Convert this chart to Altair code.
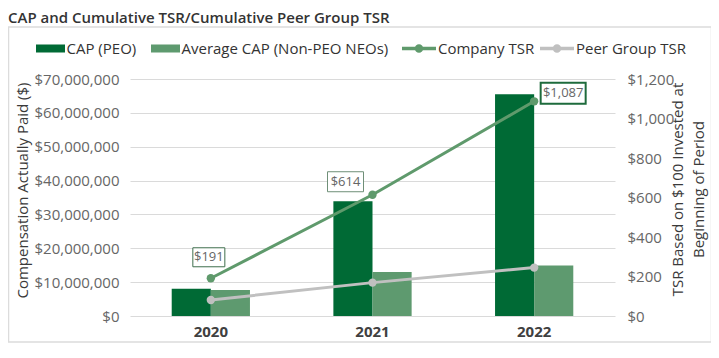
import altair as alt
import pandas as pd

# ---------------- data ----------------
years = ["2020", "2021", "2022"]
bar_series = ["CAP (PEO)", "Average CAP (Non-PEO NEOs)"]
cap_peo = [8_080_000, 33_900_000, 65_500_000]
cap_neo = [7_670_000, 12_980_000, 14_950_000]
tsr_series = ["Company TSR", "Peer Group TSR"]
company_tsr = [191, 614, 1087]
peer_tsr = [81, 169, 245]
tsr_labels = ["$191", "$614", "$1,087"]
left_ticks = [0, 10_000_000, 20_000_000, 30_000_000, 40_000_000, 50_000_000, 60_000_000, 70_000_000]
right_ticks = [0, 200, 400, 600, 800, 1000, 1200]

title_text = "CAP and Cumulative TSR/Cumulative Peer Group TSR"
left_title = "Compensation Actually Paid ($)"
right_title = ["TSR Based on $100 Invested at", "Beginning of Period"]

bar_colors = ["#006a35", "#5e9a6f"]
line_colors = ["#5f9a6c", "#c0c0c0"]

bar_df = pd.DataFrame(
    [{"year": y, "series": bar_series[0], "value": v} for y, v in zip(years, cap_peo)]
    + [{"year": y, "series": bar_series[1], "value": v} for y, v in zip(years, cap_neo)]
)
tsr_df = pd.DataFrame(
    [{"year": y, "series": tsr_series[0], "value": v} for y, v in zip(years, company_tsr)]
    + [{"year": y, "series": tsr_series[1], "value": v} for y, v in zip(years, peer_tsr)]
)
label_df = pd.DataFrame({"year": years, "value": company_tsr, "label": tsr_labels})

FONT = "Open Sans"


def box_path(w, h, unit=10.0):
    a = w / 2 / unit
    b = h / 2 / unit
    return f"M{-a:.3f},{-b:.3f}H{a:.3f}V{b:.3f}H{-a:.3f}Z"


# ---------------- encodings ----------------
x_enc = alt.X(
    "year:N",
    sort=years,
    scale=alt.Scale(paddingInner=0.516, paddingOuter=0.258),
    axis=alt.Axis(
        title=None, labelAngle=0, labelFontSize=15, labelFontWeight="bold",
        labelColor="#404040", domain=False, ticks=False, labelPadding=8,
    ),
)

y_bar = alt.Y(
    "value:Q",
    scale=alt.Scale(domain=[0, 70_000_000], nice=False),
    axis=alt.Axis(
        values=left_ticks, format="$,.0f", title=left_title, titleFontSize=15,
        titleFontWeight="normal", titleColor="#3a3a3a", labelFontSize=15,
        labelColor="#666666", domain=False, ticks=False, labelPadding=11,
        gridColor="#dadada", titlePadding=4, titleY=111,
    ),
)

y_tsr = alt.Y(
    "value:Q",
    scale=alt.Scale(domain=[0, 1200], nice=False),
    axis=alt.Axis(
        orient="right", values=right_ticks, format="$,.0f", title=right_title,
        titleAngle=270, titleFontSize=15, titleFontWeight="normal",
        titleColor="#3a3a3a", titleLineHeight=21, titleBaseline="middle",
        titleAlign="center", titleX=62, titleY=110, labelFontSize=15,
        labelColor="#666666", domain=False, ticks=False, labelPadding=12,
        grid=False,
    ),
)

# ---------------- layers ----------------
frame = alt.Chart(alt.Data(values=[{}])).mark_rect(
    fillOpacity=0, stroke="#dcdcdc", strokeWidth=1.5
).encode(
    x=alt.value(-121.5), x2=alt.value(581.5), y=alt.value(-52), y2=alt.value(263)
)

bars = alt.Chart(bar_df).mark_bar().encode(
    x=x_enc,
    xOffset=alt.XOffset("series:N", sort=bar_series,
                        scale=alt.Scale(paddingInner=0, paddingOuter=0)),
    y=y_bar,
    color=alt.Color(
        "series:N",
        sort=bar_series,
        scale=alt.Scale(domain=bar_series, range=bar_colors),
        legend=alt.Legend(
            orient="none", legendX=-94.5, legendY=-45.5, direction="horizontal",
            title=None, symbolType=box_path(29, 8, 15), symbolSize=900,
            symbolStrokeWidth=0, labelOffset=1, columnPadding=14,
            labelFontSize=15, labelColor="#333333", labelLimit=400, padding=0,
        ),
    ),
)

lines = alt.Chart(tsr_df).transform_calculate(
    line_series="datum.series"
).mark_line(strokeWidth=3).encode(
    x=x_enc,
    y=y_tsr,
    stroke=alt.Stroke("line_series:N", sort=tsr_series,
                      scale=alt.Scale(range=line_colors),
                      legend=None),
)

line_dot = (
    "M-1,-0.1H1V0.1H-1Z "
    "M0.25,0A0.25,0.25 0 1 1 -0.25,0A0.25,0.25 0 1 1 0.25,0Z"
)

points = alt.Chart(tsr_df).mark_circle(size=70, opacity=1).encode(
    x=x_enc,
    y=y_tsr,
    fill=alt.Fill(
        "series:N",
        scale=alt.Scale(domain=tsr_series, range=line_colors),
        legend=alt.Legend(
            orient="none", legendX=272, legendY=-47.5, direction="horizontal",
            title=None, symbolType=line_dot, symbolSize=1156,
            symbolStrokeWidth=0, labelOffset=2, columnPadding=5,
            labelFontSize=15, labelColor="#333333", labelLimit=400, padding=0,
        ),
    ),
)

# label box styles: (dx, dy, width, height, stroke, strokeWidth)
label_styles = [
    (-2, -21, 32, 19, "#3f6f4d", 1),
    (-27, -13, 36, 20, "#6f8f78", 1),
    (29, -8, 45, 21, "#1e6b3c", 2),
]

label_layers = []
for yr, (dx, dy, w, h, sc, sw) in zip(years, label_styles):
    base = alt.Chart(label_df).transform_filter(alt.datum.year == yr)
    box = base.mark_point(
        shape=box_path(w, h), size=400, filled=True, fill="white", opacity=1,
        stroke=sc, strokeWidth=sw, xOffset=dx, yOffset=dy,
    ).encode(x=x_enc, y=y_tsr)
    txt = base.mark_text(
        dx=dx, dy=dy, fontSize=13, color="#666666", align="center", baseline="middle",
    ).encode(x=x_enc, y=y_tsr, text="label:N")
    label_layers += [box, txt]

left_part = alt.layer(frame, bars)
right_part = alt.layer(lines, points, *label_layers)

chart = (
    alt.layer(left_part, right_part)
    .resolve_scale(y="independent")
    .properties(
        width=485,
        height=237,
        padding={"left": 122, "top": 71, "right": 96, "bottom": 28},
        autosize=alt.AutoSizeParams(type="none"),
        title=alt.TitleParams(
            text=title_text, anchor="start", frame="group", dx=-122,
            fontSize=15, fontWeight=600, color="#333333", offset=0,
        ),
    )
    .configure(font=FONT)
    .configure_view(stroke=None)
)

chart.save("out.html", embed_options={"renderer": "svg", "actions": False})
